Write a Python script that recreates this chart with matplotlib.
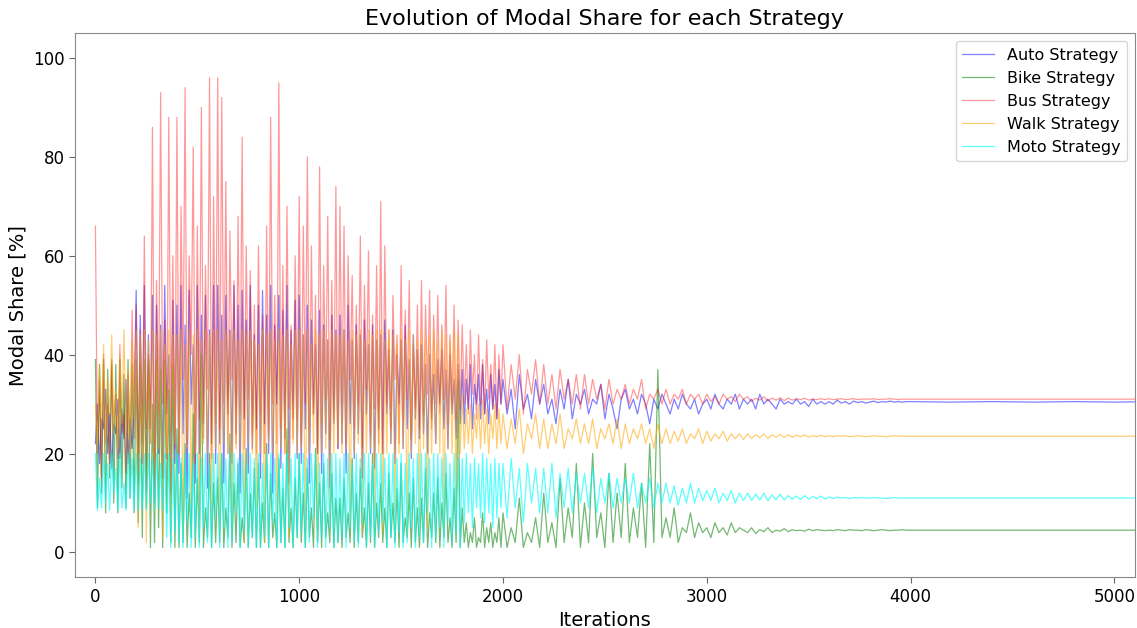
import numpy as np
import matplotlib
matplotlib.use("Agg")
import matplotlib.pyplot as plt

# Segment A: iterations 0-1990 every 10; segment B: 2000-3980 every 20;
# segment C: 4000-5200 every 200
auto_a = [
    22, 30, 18, 27, 25, 33, 20, 28, 17, 26, 24, 31, 19, 29, 23, 35, 18, 27, 21, 30,
    53, 14, 48, 22, 54, 12, 44, 25, 52, 10, 50, 20, 46, 15, 54, 28, 40, 12, 51, 18,
    50, 16, 54, 24, 46, 11, 53, 30, 42, 14, 54, 20, 48, 26, 52, 13, 45, 22, 54, 18,
    54, 22, 48, 14, 52, 28, 45, 18, 54, 24, 50, 12, 53, 27, 47, 16, 54, 21, 44, 25,
    50, 15, 53, 26, 48, 20, 54, 12, 46, 30, 52, 17, 49, 23, 54, 14, 45, 27, 51, 19,
    52, 18, 44, 25, 50, 14, 47, 28, 42, 20, 49, 16, 46, 24, 43, 13, 48, 26, 45, 21,
    48, 22, 45, 16, 50, 26, 43, 19, 46, 24, 44, 15, 47, 28, 42, 20, 46, 17, 43, 25,
    44, 20, 47, 28, 41, 22, 45, 18, 40, 30, 43, 21, 46, 25, 39, 19, 44, 27, 41, 23,
    42, 24, 38, 20, 40, 27, 36, 22, 39, 30, 41, 25, 37, 21, 40, 28, 35, 23, 38, 26,
    37, 26, 35, 29, 38, 25, 34, 30, 36, 27, 38, 28, 33, 26, 36, 29, 34, 27, 37, 30]
auto_b = [
    35, 28, 33, 25, 36, 29, 32, 27, 35, 30,
    34, 28, 31, 26, 33, 29, 35, 27, 32, 30,
    33, 28, 31, 30, 34, 27, 32, 29, 25, 31,
    33, 29, 31, 28, 32, 30, 26, 31, 29, 32,
    30, 28, 31, 29, 32, 30, 29, 31, 28, 30,
    31, 29, 32, 30, 29, 31, 30, 32, 29, 31,
    30, 31, 29, 32, 30, 31, 30, 29, 31, 30,
    30.5, 30, 31, 30, 30.5, 29.5, 31, 30, 30.5, 30,
    30.5, 30, 30.8, 30.2, 30.5, 30, 30.6, 30.3, 30.5, 30.2,
    30.4, 30.6, 30.3, 30.5, 30.4, 30.6, 30.4, 30.5, 30.4, 30.5]
auto_c = [30.5, 30.4, 30.5, 30.4, 30.5, 30.4, 30.5]

bike_a = [
    39, 9, 38, 12, 39, 8, 37, 15, 39, 10, 38, 8, 39, 13, 36, 9, 39, 11, 38, 8,
    39, 6, 38, 3, 39, 9, 39, 1, 30, 2, 39, 5, 37, 1, 39, 8, 33, 2, 38, 1,
    25, 1, 18, 2, 22, 1, 12, 3, 28, 1, 15, 2, 40, 1, 9, 3, 20, 1, 14, 2,
    15, 2, 20, 1, 9, 3, 24, 1, 14, 2, 18, 1, 7, 2, 21, 1, 12, 3, 17, 1,
    18, 1, 10, 2, 22, 1, 16, 3, 8, 1, 19, 2, 13, 1, 25, 2, 9, 1, 15, 3,
    20, 2, 12, 1, 17, 3, 9, 1, 21, 2, 14, 1, 18, 3, 8, 2, 16, 1, 11, 2,
    11, 1, 15, 3, 8, 2, 19, 1, 12, 2, 17, 3, 9, 1, 14, 2, 20, 1, 10, 3,
    14, 2, 9, 1, 16, 3, 10, 2, 13, 1, 18, 2, 7, 3, 12, 1, 15, 2, 9, 1,
    11, 2, 17, 1, 8, 3, 12, 2, 15, 1, 10, 3, 16, 2, 7, 1, 13, 2, 35, 1,
    9, 2, 6, 1, 4, 2, 7, 1, 3, 2, 8, 1, 5, 2, 6, 1, 4, 2, 7, 1]
bike_b = [
    8, 1, 5, 2, 11, 1, 4, 2, 7, 1,
    12, 2, 6, 1, 15, 2, 9, 3, 18, 1,
    10, 2, 20, 3, 8, 1, 16, 2, 12, 3,
    18, 2, 9, 3, 14, 1, 22, 2, 37, 3,
    7, 3, 9, 2, 5, 4, 8, 3, 6, 4,
    5, 3, 6, 4, 5, 3.5, 6, 4, 5, 4.5,
    4, 5, 3.8, 4.6, 4.2, 5, 4, 4.5, 4.3, 4.8,
    4.2, 4.6, 4.4, 4.5, 4.3, 4.7, 4.4, 4.6, 4.5, 4.4,
    4.5, 4.4, 4.6, 4.5, 4.4, 4.6, 4.5, 4.5, 4.4, 4.6,
    4.5, 4.4, 4.5, 4.6, 4.5, 4.4, 4.5, 4.5, 4.6, 4.5]
bike_c = [4.5, 4.5, 4.5, 4.5, 4.5, 4.5, 4.5]

bus_a = [
    66, 20, 35, 15, 40, 22, 30, 18, 38, 25, 32, 19, 42, 24, 28, 16, 36, 21, 49, 23,
    50, 20, 45, 18, 64, 25, 40, 22, 86, 15, 55, 28, 93, 30, 47, 19, 88, 24, 60, 21,
    88, 20, 70, 35, 94, 22, 60, 40, 82, 18, 66, 27, 90, 23, 58, 33, 96, 19, 72, 26,
    96, 25, 92, 30, 75, 20, 65, 35, 55, 22, 68, 28, 84, 21, 62, 31, 57, 24, 50, 20,
    62, 28, 48, 20, 66, 24, 88, 30, 52, 22, 95, 25, 58, 20, 70, 29, 46, 23, 60, 27,
    72, 22, 66, 30, 80, 25, 62, 28, 52, 20, 78, 26, 58, 31, 68, 23, 55, 27, 74, 21,
    70, 30, 66, 22, 60, 35, 56, 25, 50, 30, 64, 21, 54, 33, 61, 24, 48, 29, 58, 22,
    71, 20, 62, 30, 45, 25, 52, 35, 44, 22, 58, 27, 49, 31, 55, 23, 42, 29, 50, 25,
    55, 28, 50, 32, 53, 25, 48, 30, 52, 28, 46, 31, 54, 26, 44, 30, 50, 27, 47, 29,
    46, 30, 42, 28, 45, 32, 40, 27, 44, 30, 39, 28, 43, 31, 38, 29, 42, 27, 40, 30]
bus_b = [
    42, 29, 38, 31, 40, 28, 37, 32, 39, 30,
    38, 30, 36, 29, 37, 31, 35, 30, 36, 29,
    36, 30, 35, 31, 34, 29, 35, 30, 33, 31,
    34, 30, 33, 31, 35, 29, 32, 31, 33, 30,
    33, 30, 32, 31, 33, 30, 32, 31, 32, 30,
    32, 30.5, 31.5, 30, 32, 31, 31.5, 30.5, 32, 31,
    31.5, 30.5, 31.2, 30.8, 31.5, 30.6, 31.2, 30.8, 31.3, 30.7,
    31.2, 30.8, 31.1, 30.9, 31.2, 30.8, 31, 30.9, 31.1, 30.9,
    31.1, 30.9, 31, 31.1, 30.9, 31, 31.1, 30.9, 31, 31,
    31, 31.1, 30.9, 31, 31, 31.1, 31, 30.9, 31, 31]
bus_c = [31, 31, 31, 31, 31, 31, 31]

walk_a = [
    30, 22, 38, 25, 42, 20, 35, 28, 44, 24, 33, 21, 40, 26, 45, 23, 37, 20, 43, 27,
    45, 5, 44, 20, 45, 2, 43, 22, 45, 8, 44, 21, 45, 3, 42, 20, 45, 6, 44, 22,
    44, 20, 45, 3, 42, 21, 45, 10, 44, 20, 45, 4, 43, 22, 45, 20, 44, 7, 45, 21,
    45, 4, 43, 22, 45, 20, 44, 6, 45, 21, 43, 20, 45, 2, 44, 22, 45, 20, 43, 9,
    42, 20, 45, 2, 44, 22, 45, 20, 43, 8, 45, 21, 44, 20, 45, 3, 42, 22, 45, 20,
    45, 21, 44, 5, 45, 20, 42, 22, 45, 3, 44, 20, 45, 21, 43, 7, 45, 20, 44, 22,
    44, 20, 45, 21, 43, 6, 45, 20, 44, 22, 45, 4, 43, 20, 45, 21, 44, 9, 45, 20,
    45, 4, 43, 20, 45, 22, 44, 8, 42, 20, 45, 21, 43, 3, 45, 20, 44, 22, 43, 6,
    45, 21, 43, 5, 44, 20, 45, 22, 43, 20, 45, 4, 44, 21, 43, 20, 45, 8, 44, 20,
    32, 21, 29, 22, 30, 20, 28, 23, 30, 21, 31, 22, 29, 20, 28, 23, 30, 21, 29, 22]
walk_b = [
    28, 21, 27, 22, 29, 20, 26, 23, 28, 21,
    27, 21, 26, 22, 28, 21, 25, 23, 27, 22,
    26, 22, 27, 21, 25, 23, 26, 22, 27, 21,
    26, 22, 25, 23, 26, 22, 25, 21, 26, 22,
    25, 22, 24.5, 22.5, 25, 22, 24, 23, 25, 22,
    24.5, 22.5, 24, 23, 24.5, 22.5, 24, 23, 24, 22.8,
    24, 23, 23.8, 23.2, 24, 23, 23.8, 23.3, 23.9, 23.2,
    23.8, 23.3, 23.7, 23.4, 23.8, 23.3, 23.6, 23.4, 23.7, 23.4,
    23.6, 23.4, 23.6, 23.5, 23.6, 23.4, 23.5, 23.6, 23.5, 23.4,
    23.5, 23.6, 23.5, 23.5, 23.4, 23.5, 23.6, 23.5, 23.5, 23.5]
walk_c = [23.5, 23.5, 23.5, 23.5, 23.5, 23.5, 23.5]

moto_a = [
    20, 8.5, 15, 9, 20, 10, 18, 8.5, 20, 12, 17, 8.5, 20, 9, 14, 8.5, 20, 11, 19, 8.5,
    20, 8.5, 19, 9, 20, 8.5, 20, 10, 19, 8.5, 20, 9, 18, 8.5, 20, 3, 20, 1, 19, 4,
    20, 2, 19, 1, 20, 6, 20, 1, 18, 3, 20, 1, 19, 5, 20, 2, 18, 1, 20, 7,
    20, 1, 20, 5, 19, 1, 20, 2, 20, 8, 19, 1, 20, 4, 18, 1, 20, 3, 19, 1,
    20, 1, 18, 3, 20, 1, 20, 6, 19, 1, 20, 2, 18, 1, 20, 5, 19, 1, 20, 3,
    20, 4, 20, 1, 19, 2, 20, 7, 20, 1, 18, 3, 20, 1, 19, 5, 20, 1, 20, 2,
    19, 3, 20, 1, 20, 5, 18, 2, 20, 1, 19, 6, 20, 1, 20, 3, 18, 1, 20, 4,
    20, 6, 19, 1, 20, 3, 20, 1, 19, 4, 20, 1, 18, 2, 20, 5, 19, 1, 20, 3,
    20, 2, 20, 8, 19, 1, 20, 3, 20, 5, 19, 1, 20, 6, 18, 2, 20, 4, 19, 1,
    19, 6, 20, 8, 18, 5, 19, 9, 18, 7, 20, 6, 19, 8, 18, 5, 19, 7, 18, 9]
moto_b = [
    18, 7, 19, 9, 17, 6, 18, 10, 17, 8,
    17, 8, 18, 7, 16, 9, 17, 8, 16, 10,
    16, 9, 17, 8, 15, 10, 16, 9, 15, 10,
    15, 10, 16, 9, 14, 10, 15, 9, 14, 10,
    14, 10, 13.5, 9.5, 13, 10, 14, 10, 13, 10.5,
    12.5, 10.5, 13, 10, 12, 10.5, 12.5, 10, 12, 10.5,
    12, 10.5, 11.8, 10.6, 12, 10.4, 11.6, 10.7, 11.8, 10.6,
    11.5, 10.8, 11.4, 10.7, 11.5, 10.8, 11.3, 10.9, 11.4, 10.8,
    11.2, 10.9, 11.2, 11, 11.1, 10.9, 11.1, 11, 11.1, 11,
    11, 11.1, 11, 11, 10.9, 11, 11.1, 11, 11, 11]
moto_c = [11, 11, 11, 11, 11, 11, 11]

series = [
    ("Auto Strategy", auto_a, auto_b, auto_c, "blue", 0.5),
    ("Bike Strategy", bike_a, bike_b, bike_c, "green", 0.55),
    ("Bus Strategy", bus_a, bus_b, bus_c, "red", 0.4),
    ("Walk Strategy", walk_a, walk_b, walk_c, "orange", 0.55),
    ("Moto Strategy", moto_a, moto_b, moto_c, "cyan", 0.65),
]

fig = plt.figure(figsize=(11.37, 6.28), dpi=100)
ax = fig.add_axes([0.066, 0.081, 0.932, 0.866])

for name, a, b, c, color, alpha in series:
    x = np.concatenate([np.arange(len(a)) * 10,
                        2000 + np.arange(len(b)) * 20,
                        4000 + np.arange(len(c)) * 200])
    y = np.concatenate([a, b, c])
    ax.plot(x, y, color=color, alpha=alpha, lw=0.9, label=name)

ax.set_xlim(-100, 5100)
ax.set_ylim(-5, 105)
ax.set_xticks([0, 1000, 2000, 3000, 4000, 5000])
ax.set_yticks([0, 20, 40, 60, 80, 100])
ax.tick_params(labelsize=12, color="#666666", length=4)
for s in ax.spines.values():
    s.set_color("#888888")
ax.set_title("Evolution of Modal Share for each Strategy", fontsize=16)
ax.set_xlabel("Iterations", fontsize=14)
ax.set_ylabel("Modal Share [%]", fontsize=14)
ax.legend(loc="upper right", fontsize=11.5)

fig.savefig("out.png", dpi=100)
